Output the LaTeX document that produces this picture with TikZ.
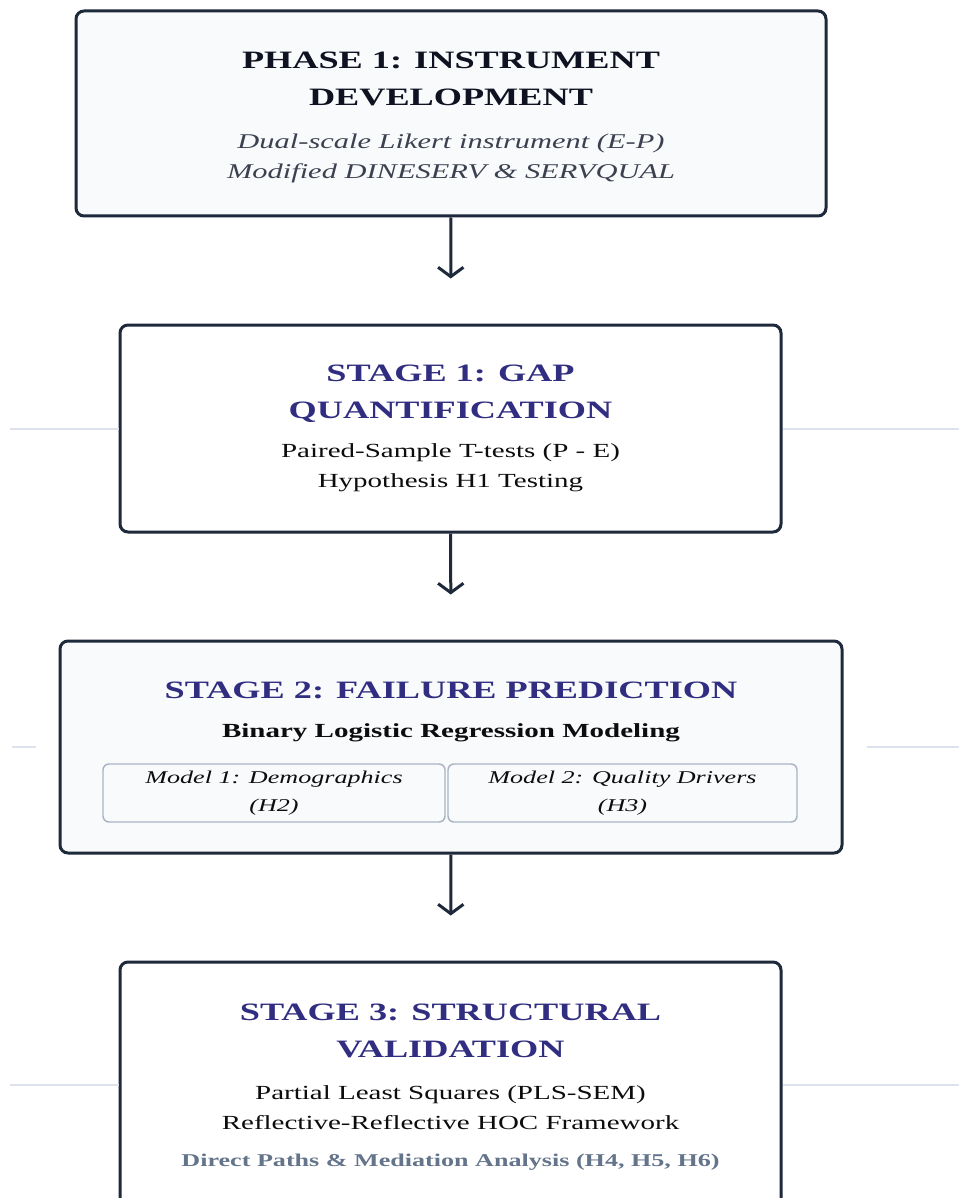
\documentclass[tikz,border=0pt]{standalone}
\usepackage{fontspec}
\setmainfont{Liberation Serif}[FakeStretch=1.45]
\usetikzlibrary{arrows.meta}

\definecolor{edge}{HTML}{1E293B}
\definecolor{titleink}{HTML}{0F1220}
\definecolor{stageink}{HTML}{312E81}
\definecolor{bodyink}{HTML}{0D0D0D}
\definecolor{softink}{HTML}{3C4150}
\definecolor{notegray}{HTML}{64748B}
\definecolor{softfill}{HTML}{F8FAFC}
\definecolor{subedge}{HTML}{A8B4C4}
\definecolor{rulegray}{HTML}{DDE3EC}

\begin{document}
\begin{tikzpicture}[
  x=0.75pt, y=-0.75pt,
  stagebox/.style={draw=edge, line width=2.25pt, rounded corners=6pt, inner sep=0pt},
  modelbox/.style={draw=subedge, line width=1.1pt, rounded corners=4.5pt, fill=softfill,
    inner sep=0pt, minimum height=43.5pt, align=center,
    font=\fontsize{13.5}{21}\selectfont\itshape, text=bodyink},
  phasehead/.style={align=center, font=\fontsize{18.75}{27.75}\selectfont\bfseries, text=titleink},
  stagehead/.style={phasehead, text=stageink},
  detail/.style={align=center, font=\fontsize{15}{22.5}\selectfont, text=bodyink},
  phasedetail/.style={detail, font=\fontsize{15.75}{22.5}\selectfont\itshape, text=softink},
  note/.style={align=center, font=\fontsize{13.5}{20}\selectfont\bfseries, text=notegray},
  flow/.style={draw=edge, line width=2.25pt, -{Straight Barb[length=7pt,width=19pt]},
    shorten >=33.75pt},
  guide/.style={draw=rulegray, line width=1.5pt}
]

% page frame, in screen pixels
\useasboundingbox (0,0) rectangle (959,1198);
\clip (0,0) rectangle (959,1198);
\fill[white] (0,0) rectangle (959,1198);

% the four boxes
\node[stagebox, fill=softfill, minimum width=562.5pt, minimum height=153.75pt]
  (phase) at (451,113.5) {};
\node[stagebox, fill=white, minimum width=495.75pt, minimum height=155.25pt]
  (gap) at (450.5,428.5) {};
\node[stagebox, fill=softfill, minimum width=586.5pt, minimum height=159pt]
  (fail) at (451,747) {};
\node[stagebox, fill=white, minimum width=495.75pt, minimum height=184.5pt]
  (struct) at (450.5,1085) {};

% hairlines through the stage boxes
\draw[guide] (10,428.5) -- (gap.west);
\draw[guide] (gap.east) -- (959,428.5);
\draw[guide] (12,747) -- ([xshift=-17.25pt]fail.west);
\draw[guide] ([xshift=17.25pt]fail.east) -- (959,747);
\draw[guide] (10,1085) -- (struct.west);
\draw[guide] (struct.east) -- (959,1085);

% phase 1
\node[phasehead] (phasetitle) at (451,78.5) {PHASE 1: INSTRUMENT\\DEVELOPMENT};
\node[phasedetail] (phasetext) at (451,158)
  {Dual-scale Likert instrument (E-P)\\Modified DINESERV \& SERVQUAL};

% stage 1
\node[stagehead] (gaptitle) at (450.5,393.5) {STAGE 1: GAP\\QUANTIFICATION};
\node[detail] (gaptext) at (450.5,467.5)
  {Paired-Sample T-tests (P - E)\\Hypothesis H1 Testing};

% stage 2
\node[stagehead] (failtitle) at (451,690) {STAGE 2: FAILURE PREDICTION};
\node[detail, font=\fontsize{15}{22.5}\selectfont\bfseries] (failtext) at (451,733)
  {Binary Logistic Regression Modeling};
\node[modelbox, minimum width=256.5pt] (demo) at (274,793)
  {Model 1: Demographics\\(H2)};
\node[modelbox, minimum width=261.75pt] (drivers) at (622.5,793)
  {Model 2: Quality Drivers\\(H3)};

% stage 3
\node[stagehead] (structtitle) at (450.5,1031) {STAGE 3: STRUCTURAL\\VALIDATION};
\node[detail] (structtext) at (450.5,1107.5)
  {Partial Least Squares (PLS-SEM)\\Reflective-Reflective HOC Framework};
\node[note] (structnote) at (450.5,1162)
  {Direct Paths \& Mediation Analysis (H4, H5, H6)};

% flow between the boxes
\draw[flow] (phase) -- (gap);
\draw[flow] (gap) -- (fail);
\draw[flow] (fail) -- (struct);

\end{tikzpicture}
\end{document}
